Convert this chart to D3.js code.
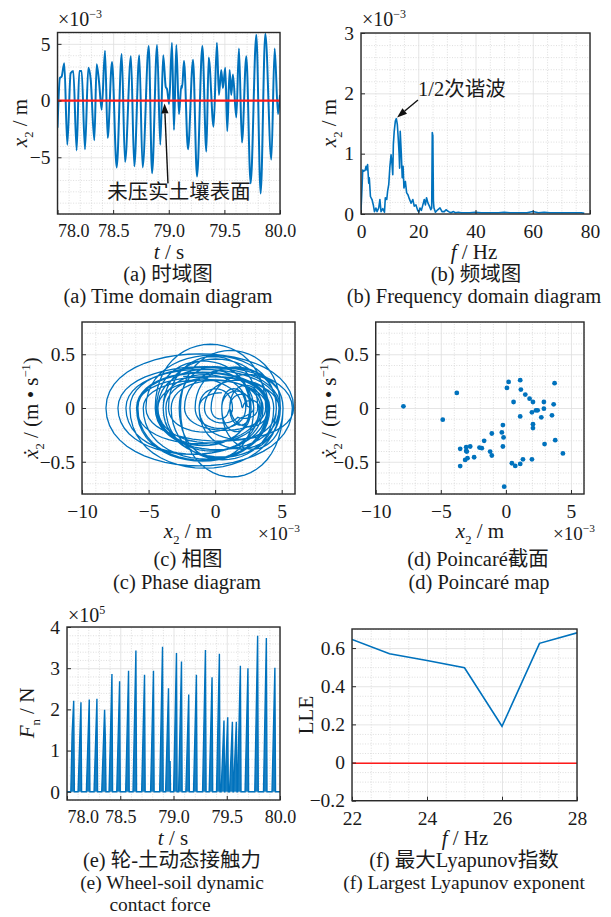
<!DOCTYPE html>
<html><head><meta charset="utf-8">
<script src="https://cdn.jsdelivr.net/npm/d3@7"></script>
<style>body{margin:0;background:#fff}</style>
</head><body>
<script>
// ---------------- DATA ----------------
// (a) time-domain response x2 (x1e-3 m), read extremes
const timeT = [78.000,78.022,78.037,78.061,78.088,78.118,78.142,78.172,78.196,78.217,78.247,78.277,78.298,78.331,78.352,78.373,78.397,78.427,78.451,78.490,78.532,78.577,78.607,78.660,78.690,78.735,78.765,78.820,78.850,78.895,78.924,78.950,78.973,78.985,79.003,79.029,79.047,79.068,79.092,79.113,79.120,79.137,79.173,79.218,79.254,79.302,79.338,79.359,79.403,79.433,79.451,79.472,79.487,79.508,79.526,79.547,79.562,79.577,79.607,79.631,79.658,79.697,79.736,79.787,79.826,79.868,79.922,79.952,79.982,80.000];
const timeX = [-2.4,2.0,2.1,3.3,-3.9,2.4,2.6,-4.4,2.6,2.6,-4.3,2.9,1.9,-3.5,3.2,1.7,-0.8,4.4,-3.3,3.4,-5.9,4.1,-5.4,3.9,-5.8,4.0,-5.9,4.8,-6.4,4.9,-3.9,4.0,1.2,1.0,-0.3,5.1,-2.6,4.9,-1.2,1.3,1.1,3.5,-4.3,3.6,-6.7,4.8,-4.5,3.8,-2.3,5.1,0.5,2.7,1.1,2.9,-2.7,2.7,0.5,2.3,-1.5,4.6,-3.7,3.9,-7.3,5.8,-8.2,5.9,-5.2,4.6,-1.2,0.5];

// (b) amplitude spectrum (x1e-3 m)
const fftF = [0,0.35,0.6,1.0,1.4,1.75,2.1,2.3,2.7,2.9,3.3,3.85,4.3,4.7,5.2,5.6,6.2,6.6,7.0,7.6,8.2,8.5,9.0,9.3,9.7,10.1,10.5,10.8,11.1,11.3,11.6,12.0,12.35,12.7,13.0,13.3,13.5,13.7,14.1,14.4,14.7,15.0,15.5,15.95,16.4,16.9,17.5,18.1,18.6,19.2,19.8,20.2,20.6,21.1,21.5,22.1,22.5,22.9,23.4,23.9,24.4,24.7,24.9,25.1,25.3,25.5,26.0,26.8,27.6,28.3,29.1,29.7,30.6,31.4,32.3,33.0,34,35,36,38,40,42,45,48,50,52,55,58,60,62,64,66,70,74,77,78];
const fftA = [0.05,0.43,0.73,0.71,0.72,0.79,0.73,0.82,0.51,0.60,0.29,0.24,0.15,0.04,0.10,0.04,0.10,0.24,0.04,0.09,0.03,0.27,0.24,0.38,0.49,0.79,0.98,0.85,0.65,1.15,1.37,1.54,1.58,1.48,1.26,1.01,0.76,1.37,0.98,0.60,0.79,0.43,0.54,0.35,0.32,0.25,0.18,0.24,0.13,0.15,0.06,0.03,0.10,0.06,0.13,0.24,0.15,0.27,0.18,0.13,0.07,0.10,1.35,1.30,0.20,0.10,0.03,0.07,0.10,0.04,0.04,0.07,0.04,0.02,0.04,0.02,0.03,0.02,0.02,0.02,0.03,0.02,0.02,0.02,0.03,0.02,0.02,0.02,0.04,0.02,0.03,0.02,0.02,0.02,0.02,0.01];

// (d) Poincare section points (x2 x1e-3 m, dx2 m/s)
const poinX = [-7.87,-4.85,-3.77,-3.51,-3.51,-3.05,-3.05,-3.13,-2.95,-2.74,-3.0,-2.44,-2.03,-1.85,-1.67,-1.21,-1.08,-1.08,-0.31,-0.23,-0.18,-0.23,-0.13,0.08,0.21,0.59,0.46,0.72,1.10,1.31,1.10,1.15,1.10,1.49,1.82,2.08,2.0,2.08,2.08,2.0,2.31,2.44,2.72,2.92,2.92,2.97,3.54,3.67,3.74,3.79,4.38];
const poinV = [0.016,-0.109,0.14,-0.38,-0.54,-0.364,-0.40,-0.483,-0.467,-0.358,-0.405,-0.458,-0.368,-0.374,-0.305,-0.405,-0.442,-0.237,-0.227,-0.159,-0.274,-0.358,-0.732,0.187,0.243,0.056,-0.514,-0.539,-0.52,-0.477,0.259,0.171,-0.078,0.125,0.087,0.056,-0.04,-0.15,-0.187,-0.477,-0.022,-0.022,-0.087,0.056,-0.006,-0.336,-0.068,0.034,0.231,-0.299,-0.423];

// (e) wheel-soil contact force pulses (x1e5 N)
const forceStartT = [78.036,78.104,78.182,78.254,78.326,78.395,78.467,78.551,78.620,78.701,78.785,78.870,78.926,79.001,79.048,79.116,79.188,79.273,79.335,79.404,79.447,79.482,79.526,79.563,79.601,79.672,79.763,79.845,79.925];
const forcePeakT  = [78.063,78.131,78.209,78.281,78.353,78.422,78.494,78.578,78.647,78.728,78.812,78.897,78.953,79.028,79.075,79.143,79.215,79.300,79.362,79.431,79.474,79.509,79.553,79.590,79.628,79.699,79.790,79.872,79.952];
const forcePeak   = [2.21,2.17,2.24,2.26,1.99,2.86,2.68,2.94,3.43,2.84,2.94,3.52,2.51,3.37,3.16,2.36,2.84,3.44,2.78,3.35,1.73,1.81,1.70,1.70,3.06,3.00,3.79,3.73,3.01];
const forceEndT   = [78.069,78.137,78.215,78.287,78.366,78.428,78.500,78.584,78.653,78.734,78.818,78.903,78.972,79.034,79.081,79.149,79.221,79.306,79.368,79.437,79.480,79.515,79.559,79.596,79.634,79.705,79.796,79.878,79.958];
const forceExtraT = [78.048,78.360,78.960,78.968];
const forceExtraF = [1.40,1.28,0.73,0.73];

// (f) largest Lyapunov exponent
const lleF = [22,23,24,25,26,27,28];
const lleV = [0.645,0.57,0.535,0.497,0.19,0.625,0.68];

// tick values
const tTicks = [78,78.5,79,79.5,80];
const aYTicks = [-5,0,5];
const bXTicks = [0,20,40,60,80];
const bYTicks = [0,1,2,3];
const phXTicks = [-10,-5,0,5];
const phYTicks = [-0.5,0,0.5];
const eYTicks = [0,1,2,3,4];
const fXTicks = [22,24,26,28];
const fYTicks = [-0.2,0,0.2,0.4,0.6];

// ---------------- DRAW ----------------
const BLUE='#0072BD', RED='#ff1a1a', FRAME='#2a2a2a', TXT='#1a1a1a';
const FONT='"Liberation Serif","Times New Roman","DejaVu Serif","Noto Sans CJK SC",serif';
const svg=d3.select('body').append('svg').attr('width',611).attr('height',917)
  .attr('font-family',FONT);
let clipId=0;
const f1=d3.format('.1f'), f0=d3.format('d');
const fz=v=>v===0?'0':f1(v);

function panel(p){
  const x=d3.scaleLinear().domain(p.xd).range([p.l,p.r]);
  const y=d3.scaleLinear().domain(p.yd).range([p.b,p.t]);
  const w=p.r-p.l, h=p.b-p.t;
  const g=svg.append('g');
  const xm=d3.range(p.xd[0],p.xd[1]+1e-9,p.xms).filter(v=>!p.xt.some(t=>Math.abs(t-v)<1e-6));
  const ym=d3.range(p.yd[0],p.yd[1]+1e-9,p.yms).filter(v=>!p.yt.some(t=>Math.abs(t-v)<1e-6));
  const minor=a=>{a.select('.domain').remove();a.selectAll('line').attr('stroke','#c8c8c8').attr('stroke-width',0.6).attr('stroke-dasharray','1,1.6');};
  const major=a=>{a.select('.domain').remove();a.selectAll('line').attr('stroke','#dedede').attr('stroke-width',0.8);};
  g.append('g').attr('transform',`translate(0,${p.b})`).call(d3.axisBottom(x).tickValues(xm).tickSize(-h).tickFormat('')).call(minor);
  g.append('g').attr('transform',`translate(${p.l},0)`).call(d3.axisLeft(y).tickValues(ym).tickSize(-w).tickFormat('')).call(minor);
  g.append('g').attr('transform',`translate(0,${p.b})`).call(d3.axisBottom(x).tickValues(p.xt).tickSize(-h).tickFormat('')).call(major);
  g.append('g').attr('transform',`translate(${p.l},0)`).call(d3.axisLeft(y).tickValues(p.yt).tickSize(-w).tickFormat('')).call(major);
  const id='clip'+(clipId++);
  svg.append('clipPath').attr('id',id).append('rect').attr('x',p.l).attr('y',p.t).attr('width',w).attr('height',h);
  const plot=svg.append('g').attr('clip-path',`url(#${id})`);
  const over=svg.append('g');
  const ax=over.append('g').attr('transform',`translate(0,${p.b})`)
    .call(d3.axisBottom(x).tickValues(p.xt).tickSize(-4).tickPadding(10).tickFormat(p.xf));
  const ay=over.append('g').attr('transform',`translate(${p.l},0)`)
    .call(d3.axisLeft(y).tickValues(p.yt).tickSize(-4).tickPadding(7).tickFormat(p.yf));
  [ax,ay].forEach(a=>{a.attr('font-family',FONT);a.select('.domain').remove();a.selectAll('line').attr('stroke',FRAME).attr('stroke-width',1);
    a.selectAll('text').attr('font-size',19.5).attr('fill',TXT).attr('font-family',FONT);});
  if(p.xfs) ax.selectAll('text').attr('font-size',p.xfs);
  if(p.firstStart) ax.select('.tick text').attr('text-anchor','start');
  over.append('rect').attr('x',p.l).attr('y',p.t).attr('width',w).attr('height',h)
    .attr('fill','none').attr('stroke',FRAME).attr('stroke-width',1.4);
  return {x,y,plot,over};
}

function rich(x,y,segs,size,anchor,rot){
  const t=svg.append('text').attr('font-size',size).attr('text-anchor',anchor||'middle').attr('fill',TXT);
  if(rot) t.attr('transform',`translate(${x},${y}) rotate(-90)`); else t.attr('x',x).attr('y',y);
  let shift=0;
  segs.forEach(s=>{
    const sp=t.append('tspan').text(s.t);
    const target=s.sub?size*0.3:s.sup?-size*0.4:0;
    if(target-shift!==0) sp.attr('dy',target-shift);
    shift=target;
    if(s.sub||s.sup) sp.attr('font-size',size*0.6);
    if(s.i) sp.attr('font-style','italic');
  });
  return t;
}
function arrow(g,x1,y1,x2,y2){
  const L=Math.hypot(x2-x1,y2-y1), ux=(x2-x1)/L, uy=(y2-y1)/L, hl=10, hw=3.6;
  const bx=x2-ux*hl, by=y2-uy*hl;
  g.append('line').attr('x1',x1).attr('y1',y1).attr('x2',bx).attr('y2',by).attr('stroke','#111').attr('stroke-width',1.4);
  g.append('path').attr('d',`M${x2},${y2}L${bx-uy*hw},${by+ux*hw}L${bx+uy*hw},${by-ux*hw}Z`).attr('fill','#111');
}
const timeFmt=v=>f1(v);

// ---- (a) time domain
{
  const P=panel({l:57.5,r:280,t:32.5,b:214,xd:[78,80],yd:[-10,6],xt:tTicks,yt:aYTicks,xms:0.1,yms:1,xf:timeFmt,yf:f0,firstStart:true,xfs:18});
  const data=timeT.map((t,i)=>[t,timeX[i]]);
  P.plot.append('path').datum(data).attr('fill','none').attr('stroke',BLUE).attr('stroke-width',2)
    .attr('d',d3.line().x(d=>P.x(d[0])).y(d=>P.y(d[1])).curve(d3.curveMonotoneX));
  P.plot.append('line').attr('x1',P.x(78)).attr('x2',P.x(80)).attr('y1',P.y(0)).attr('y2',P.y(0)).attr('stroke',RED).attr('stroke-width',2.2);
  arrow(P.over,P.x(78.993),P.y(-7.3),P.x(78.962),P.y(-0.25));
  P.over.append('text').attr('x',P.x(79.092)).attr('y',P.y(-8.67)).attr('text-anchor','middle').attr('font-size',20.5).attr('fill',TXT).text('未压实土壤表面');
  rich(58,26,[{t:'×10'},{t:'−3',sup:true}],20,'start');
  rich(27,123,[{t:'x',i:true},{t:'2',sub:true},{t:' / m'}],21,'middle',true);
  rich(169,259,[{t:'t',i:true},{t:' / s'}],21,'middle');
  rich(168,281,[{t:'(a) 时域图'}],20.5,'middle');
  rich(168,303,[{t:'(a) Time domain diagram'}],20.5,'middle');
}
// ---- (b) frequency domain
{
  const P=panel({l:361,r:590,t:33,b:214,xd:[0,80],yd:[0,3],xt:bXTicks,yt:bYTicks,xms:5,yms:0.2,xf:f0,yf:f0});
  const data=fftF.map((f,i)=>[f,fftA[i]]);
  P.plot.append('path').datum(data).attr('fill','none').attr('stroke',BLUE).attr('stroke-width',1.6).attr('stroke-linejoin','round')
    .attr('d',d3.line().x(d=>P.x(d[0])).y(d=>P.y(d[1])));
  arrow(P.over,P.x(19.9),P.y(1.89),P.x(12.6),P.y(1.60));
  P.over.append('text').attr('x',P.x(19.9)).attr('y',P.y(1.96)).attr('text-anchor','start').attr('font-size',20.5).attr('fill',TXT).text('1/2次谐波');
  rich(362,26,[{t:'×10'},{t:'−3',sup:true}],20,'start');
  rich(336,123,[{t:'x',i:true},{t:'2',sub:true},{t:' / m'}],21,'middle',true);
  rich(474,259,[{t:'f',i:true},{t:' / Hz'}],21,'middle');
  rich(476,281,[{t:'(b) 频域图'}],20.5,'middle');
  rich(474,303,[{t:'(b) Frequency domain diagram'}],20.5,'middle');
}
// ---- (c) phase diagram, derived from the (a) series (monotone cubic, as drawn in (a))
{
  const P=panel({l:82,r:295,t:322,b:494,xd:[-10,6],yd:[-0.8,0.8],xt:phXTicks,yt:phYTicks,xms:1,yms:0.1,xf:f0,yf:fz});
  const n=timeT.length, h=[], s=[], m=new Array(n).fill(0);
  for(let i=0;i<n-1;i++){h[i]=timeT[i+1]-timeT[i]; s[i]=(timeX[i+1]-timeX[i])/h[i];}
  for(let i=1;i<n-1;i++){
    const p=(s[i-1]*h[i]+s[i]*h[i-1])/(h[i-1]+h[i]);
    m[i]=(Math.sign(s[i-1])+Math.sign(s[i]))*Math.min(Math.abs(s[i-1]),Math.abs(s[i]),0.5*Math.abs(p))||0;
  }
  m[0]=(3*s[0]-m[1])/2; m[n-1]=(3*s[n-2]-m[n-2])/2;
  const pts=[];
  for(let i=0;i<n-1;i++){
    const y0=timeX[i],y1=timeX[i+1],hh=h[i],m0=m[i],m1=m[i+1];
    for(let k=0;k<24;k++){
      const u=k/24,u2=u*u,u3=u2*u;
      const xv=(2*u3-3*u2+1)*y0+(u3-2*u2+u)*hh*m0+(-2*u3+3*u2)*y1+(u3-u2)*hh*m1;
      const dv=(6*u2-6*u)*y0/hh+(3*u2-4*u+1)*m0+(-6*u2+6*u)*y1/hh+(3*u2-2*u)*m1;
      pts.push([xv,dv*1e-3]);
    }
  }
  pts.push([timeX[n-1],m[n-1]*1e-3]);
  P.plot.append('path').datum(pts).attr('fill','none').attr('stroke',BLUE).attr('stroke-width',1.3)
    .attr('d',d3.line().x(d=>P.x(d[0])).y(d=>P.y(d[1])));
  rich(38,408,[{t:'ẋ',i:true},{t:'2',sub:true},{t:' / (m • s'},{t:'−1',sup:true},{t:')'}],21,'middle',true);
  rich(188,538,[{t:'x',i:true},{t:'2',sub:true},{t:' / m'}],21,'middle');
  rich(258,540,[{t:'×10'},{t:'−3',sup:true}],19,'start');
  rich(188,566,[{t:'(c) 相图'}],20.5,'middle');
  rich(187,589,[{t:'(c) Phase diagram'}],20.5,'middle');
}
// ---- (d) Poincare map
{
  const P=panel({l:375.7,r:584,t:322,b:494,xd:[-10,6],yd:[-0.8,0.8],xt:phXTicks,yt:phYTicks,xms:1,yms:0.1,xf:f0,yf:fz});
  P.plot.selectAll('circle').data(poinX.map((v,i)=>[v,poinV[i]])).join('circle')
    .attr('cx',d=>P.x(d[0])).attr('cy',d=>P.y(d[1])).attr('r',2.4).attr('fill',BLUE);
  rich(336,408,[{t:'ẋ',i:true},{t:'2',sub:true},{t:' / (m • s'},{t:'−1',sup:true},{t:')'}],21,'middle',true);
  rich(480,538,[{t:'x',i:true},{t:'2',sub:true},{t:' / m'}],21,'middle');
  rich(553,540,[{t:'×10'},{t:'−3',sup:true}],19,'start');
  rich(478,566,[{t:'(d) Poincaré截面'}],20.5,'middle');
  rich(479,589,[{t:'(d) Poincaré map'}],20.5,'middle');
}
// ---- (e) contact force
{
  const P=panel({l:67,r:280,t:627,b:800,xd:[78,80],yd:[-0.2,4],xt:tTicks,yt:eYTicks,xms:0.1,yms:0.2,xf:timeFmt,yf:f0,firstStart:true,xfs:18});
  let pts=[[78,0],[80,0]];
  forcePeakT.forEach((t,i)=>{pts.push([forceStartT[i],0],[t,forcePeak[i]],[forceEndT[i],0]);});
  forceExtraT.forEach((t,i)=>pts.push([t,forceExtraF[i]]));
  pts.sort((a,b)=>a[0]-b[0]);
  P.plot.append('path').datum(pts).attr('fill',BLUE).attr('fill-opacity',0.9)
    .attr('d',d3.area().x(d=>P.x(d[0])).y0(P.y(0)).y1(d=>P.y(d[1])));
  P.plot.append('path').datum(pts).attr('fill','none').attr('stroke',BLUE).attr('stroke-width',1.4)
    .attr('d',d3.line().x(d=>P.x(d[0])).y(d=>P.y(d[1])));
  rich(68,622,[{t:'×10'},{t:'5',sup:true}],20,'start');
  rich(34,713,[{t:'F',i:true},{t:'n',sub:true},{t:' / N'}],21,'middle',true);
  rich(173,845,[{t:'t',i:true},{t:' / s'}],21,'middle');
  rich(172,867,[{t:'(e) 轮-土动态接触力'}],20.5,'middle');
  rich(172,889,[{t:'(e) Wheel-soil dynamic'}],19.5,'middle');
  rich(160,911,[{t:'contact force'}],19.5,'middle');
}
// ---- (f) LLE
{
  const P=panel({l:352,r:577,t:629,b:800.7,xd:[22,28],yd:[-0.2,0.7],xt:fXTicks,yt:fYTicks,xms:0.5,yms:0.05,xf:f0,yf:fz});
  P.plot.append('path').datum(lleF.map((f,i)=>[f,lleV[i]])).attr('fill','none').attr('stroke',BLUE).attr('stroke-width',1.6)
    .attr('d',d3.line().x(d=>P.x(d[0])).y(d=>P.y(d[1])));
  P.plot.append('line').attr('x1',P.x(22)).attr('x2',P.x(28)).attr('y1',P.y(-0.004)).attr('y2',P.y(-0.004)).attr('stroke',RED).attr('stroke-width',1.6);
  rich(313,715,[{t:'LLE'}],21,'middle',true);
  rich(465,845,[{t:'f',i:true},{t:' / Hz'}],21,'middle');
  rich(464,867,[{t:'(f) 最大Lyapunov指数'}],20.5,'middle');
  rich(464,889,[{t:'(f) Largest Lyapunov exponent'}],19.5,'middle');
}
</script>
</body></html>
